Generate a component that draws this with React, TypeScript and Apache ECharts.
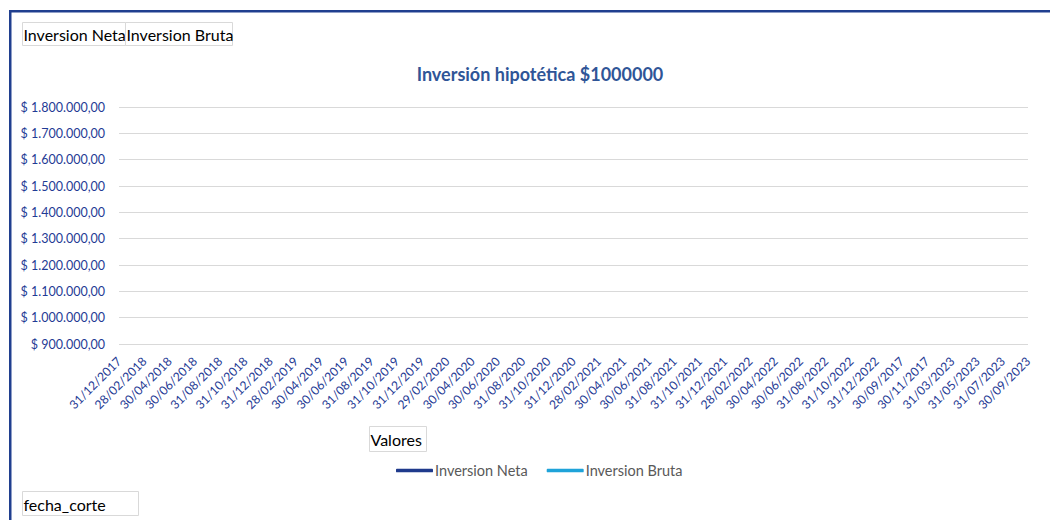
import React, { useEffect, useRef } from "react";
import * as echarts from "echarts";

// ---- data ----
const categories: string[] = [
  "31/12/2017", "28/02/2018", "30/04/2018", "30/06/2018", "31/08/2018", "31/10/2018",
  "31/12/2018", "28/02/2019", "30/04/2019", "30/06/2019", "31/08/2019", "31/10/2019",
  "31/12/2019", "29/02/2020", "30/04/2020", "30/06/2020", "31/08/2020", "31/10/2020",
  "31/12/2020", "28/02/2021", "30/04/2021", "30/06/2021", "31/08/2021", "31/10/2021",
  "31/12/2021", "28/02/2022", "30/04/2022", "30/06/2022", "31/08/2022", "31/10/2022",
  "31/12/2022", "30/09/2017", "30/11/2017", "31/03/2023", "31/05/2023", "31/07/2023",
  "30/09/2023",
];
// The reference shows no plotted values for either series
const inversionNeta: (number | null)[] = [];
const inversionBruta: (number | null)[] = [];
const seriesNames: string[] = ["Inversion Neta", "Inversion Bruta"];
const yMin = 900000;
const yMax = 1800000;
const yStep = 100000;
const chartTitle = "Inversión hipotética $1000000";
const pivotFields: string[] = ["Inversion Neta", "Inversion Bruta"];
const valuesButton = "Valores";
const axisButton = "fecha_corte";

const FONT = "Lato, 'Noto Sans', sans-serif";
const DARK_BLUE = "#1f3b95";

function formatMoney(v: number): string {
  const [intPart, dec] = v.toFixed(2).split(".");
  return "$ " + intPart.replace(/\B(?=(\d{3})+(?!\d))/g, ".") + "," + dec;
}

function button(x: number, y: number, w: number, h: number, label: string) {
  return {
    type: "group",
    children: [
      {
        type: "rect",
        shape: { x, y, width: w, height: h },
        style: { fill: "#ffffff", stroke: "#d9d9d9", lineWidth: 1 },
      },
      {
        type: "text",
        style: {
          text: label,
          x: x + 1,
          y: y + h / 2 + 0.5,
          fill: "#000000",
          fontSize: 16,
          fontFamily: FONT,
          verticalAlign: "middle",
          align: "left",
        },
      },
    ],
  };
}

export default function App() {
  const ref = useRef<HTMLDivElement>(null);

  useEffect(() => {
    if (!ref.current) return;
    const chart = echarts.init(ref.current, undefined, { renderer: "svg" });
    chart.setOption({
      animation: false,
      backgroundColor: "#ffffff",
      textStyle: { fontFamily: FONT },
      grid: { left: 119, right: 22, top: 107, bottom: 176, containLabel: false },
      xAxis: {
        type: "category",
        data: categories,
        boundaryGap: false,
        axisLine: { show: false },
        axisTick: { show: false },
        axisLabel: {
          interval: 0,
          rotate: 45,
          margin: 15,
          color: DARK_BLUE,
          fontSize: 12.2,
          fontFamily: FONT,
        },
        splitLine: { show: false },
      },
      yAxis: {
        type: "value",
        min: yMin,
        max: yMax,
        interval: yStep,
        axisLine: { show: false },
        axisTick: { show: false },
        axisLabel: {
          margin: 14,
          color: DARK_BLUE,
          fontSize: 12.5,
          fontFamily: FONT,
          formatter: (v: number) => formatMoney(v),
        },
        splitLine: { show: true, lineStyle: { color: "#d9d9d9", width: 1 } },
      },
      legend: {
        data: seriesNames,
        left: 391,
        top: 458,
        icon: "roundRect",
        itemWidth: 37,
        itemHeight: 3.5,
        itemGap: 19,
        textStyle: {
          color: "#595959",
          fontSize: 14.5,
          fontFamily: FONT,
          padding: [0, 0, 0, -3],
        },
      },
      series: [
        {
          name: seriesNames[0],
          type: "line",
          data: inversionNeta,
          showSymbol: false,
          color: "#1f3a8c",
          lineStyle: { width: 2.5, color: "#1f3a8c" },
        },
        {
          name: seriesNames[1],
          type: "line",
          data: inversionBruta,
          showSymbol: false,
          color: "#1fa3d9",
          lineStyle: { width: 2.5, color: "#1fa3d9" },
        },
      ],
      graphic: [
        {
          type: "line",
          shape: { x1: 9, y1: 11.25, x2: 1050, y2: 11.25 },
          style: { stroke: "#203f8f", lineWidth: 2.5 },
        },
        {
          type: "line",
          shape: { x1: 10.25, y1: 10, x2: 10.25, y2: 520 },
          style: { stroke: "#203f8f", lineWidth: 2.5 },
        },
        {
          type: "text",
          style: {
            text: chartTitle,
            x: 540,
            y: 74,
            align: "center",
            verticalAlign: "middle",
            fill: "#2f5597",
            fontSize: 18,
            fontWeight: "bold",
            fontFamily: FONT,
          },
        },
        button(22.5, 22.5, 103, 23, pivotFields[0]),
        button(125.5, 22.5, 107, 23, pivotFields[1]),
        button(369.5, 426.5, 57, 25, valuesButton),
        button(22.5, 491.5, 116, 24, axisButton),
      ],
    });
    return () => chart.dispose();
  }, []);

  return (
    <div
      ref={ref}
      style={{ position: "fixed", left: 0, top: 0, width: 1050, height: 520 }}
    />
  );
}
